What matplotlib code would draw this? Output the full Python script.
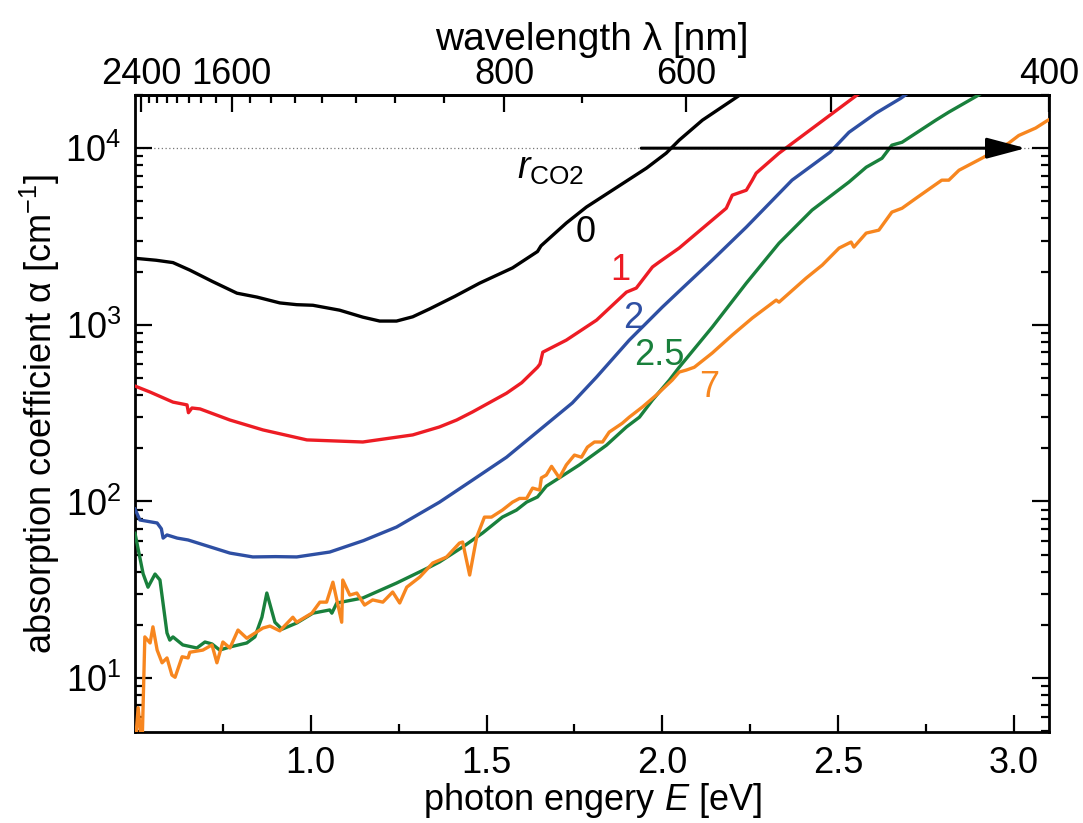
import numpy as np
import matplotlib
matplotlib.use("Agg")
from matplotlib import pyplot as plt
from matplotlib.ticker import FixedLocator, LogLocator, NullFormatter

plt.rcParams['font.family'] = ['Liberation Sans', 'DejaVu Sans']
plt.rcParams['mathtext.fontset'] = 'custom'
plt.rcParams['mathtext.rm'] = 'Liberation Sans'
plt.rcParams['mathtext.it'] = 'Liberation Sans:italic'

# r_CO2 = 0
E_0 = [0.500, 0.560, 0.608, 0.656, 0.720, 0.790, 0.847, 0.912, 0.960, 1.006, 1.082,
       1.148, 1.196, 1.244, 1.290, 1.338, 1.410, 1.480, 1.574, 1.645, 1.655, 1.727,
       1.784, 1.858, 1.955, 2.011, 2.048, 2.114, 2.224, 2.260]
a_0 = [2380, 2320, 2250, 2040, 1760, 1510, 1435, 1330, 1300, 1290, 1210,
       1105, 1050, 1050, 1110, 1230, 1450, 1720, 2100, 2600, 2800, 3770,
       4640, 5780, 7710, 9370, 11100, 14400, 20200, 23000]

# r_CO2 = 1
E_1 = [0.500, 0.543, 0.608, 0.648, 0.652, 0.662, 0.685, 0.770, 0.864, 0.989, 1.148,
       1.290, 1.366, 1.415, 1.460, 1.557, 1.600, 1.645, 1.652, 1.660, 1.727, 1.813,
       1.898, 1.926, 1.972, 1.991, 2.048, 2.068, 2.182, 2.199, 2.239, 2.256, 2.267,
       2.332, 2.554, 2.600]
a_1 = [450, 416, 365, 352, 318, 338, 334, 289, 254, 223, 217,
       238, 264, 289, 321, 410, 470, 575, 600, 700, 819, 1063,
       1531, 1614, 2125, 2265, 2720, 2940, 4570, 5420, 5780, 6590, 7220,
       9370, 20000, 23000]

# r_CO2 = 2
E_2 = [0.500, 0.514, 0.563, 0.575, 0.580, 0.591, 0.620, 0.651, 0.770, 0.835, 0.900,
       0.960, 1.054, 1.150, 1.244, 1.366, 1.460, 1.557, 1.651, 1.744, 1.813, 1.906,
       2.000, 2.048, 2.142, 2.239, 2.369, 2.477, 2.531, 2.608, 2.679, 2.720]
a_2 = [90.5, 78.5, 75.5, 70, 62, 64.6, 62, 60.5, 51, 48.5, 48.7,
       48.5, 51.7, 60, 71.6, 99, 132, 178, 254, 361, 506, 819,
       1259, 1550, 2323, 3573, 6590, 9480, 12300, 15800, 19200, 22000]

# r_CO2 = 2.5
E_25 = [0.500, 0.523, 0.537, 0.557, 0.571, 0.591, 0.599, 0.608, 0.636, 0.676, 0.699,
        0.719, 0.741, 0.770, 0.818, 0.841, 0.861, 0.875, 0.898, 0.918, 0.960, 1.006,
        1.054, 1.060, 1.074, 1.148, 1.244, 1.338, 1.366, 1.432, 1.489, 1.545, 1.585,
        1.614, 1.645, 1.670, 1.707, 1.764, 1.841, 1.898, 1.935, 1.972, 2.020, 2.048,
        2.142, 2.239, 2.332, 2.426, 2.531, 2.580, 2.625, 2.653, 2.682, 2.778, 2.815,
        2.900, 2.930]
a_25 = [66, 39, 32.7, 38.8, 35.9, 18.0, 16.4, 17.1, 15.4, 14.8, 16.0,
        15.6, 14.4, 15.0, 15.8, 17.1, 22.1, 30.3, 20.7, 18.9, 20.5, 23.3,
        24.3, 23.3, 26.6, 28.4, 34.5, 42.5, 45.4, 55.2, 66.3, 81.5, 89.3,
        99.1, 106, 122, 136, 161, 208, 264, 300, 375, 486, 575,
        970, 1722, 2897, 4460, 6430, 7800, 8770, 10400, 10800, 14400, 16000,
        20000, 22000]

# r_CO2 = 7
E_7 = [0.500, 0.509, 0.520, 0.528, 0.543, 0.551, 0.563, 0.577, 0.591, 0.605, 0.614,
       0.634, 0.651, 0.656, 0.693, 0.719, 0.733, 0.750, 0.770, 0.793, 0.818, 0.864,
       0.884, 0.912, 0.949, 0.960, 1.003, 1.026, 1.045, 1.063, 1.088, 1.091, 1.111,
       1.131, 1.153, 1.176, 1.205, 1.233, 1.253, 1.273, 1.310, 1.347, 1.386, 1.423,
       1.432, 1.452, 1.472, 1.494, 1.514, 1.545, 1.574, 1.594, 1.614, 1.631, 1.651,
       1.656, 1.670, 1.685, 1.707, 1.727, 1.750, 1.770, 1.787, 1.807, 1.830, 1.849,
       1.886, 1.906, 1.943, 1.983, 2.028, 2.048, 2.068, 2.091, 2.142, 2.199, 2.256,
       2.324, 2.332, 2.409, 2.455, 2.503, 2.537, 2.545, 2.580, 2.616, 2.653, 2.682,
       2.722, 2.795, 2.815, 2.844, 2.909, 2.986, 3.014, 3.062, 3.097, 3.100]
a_7 = [4.0, 6.8, 4.0, 17.1, 15.8, 19.5, 14.4, 12.2, 13.0, 10.4, 10.1,
       13.2, 13.0, 14.0, 14.4, 15.4, 12.2, 16.0, 14.8, 18.7, 16.8, 19.2,
       19.7, 18.5, 22.1, 20.7, 23.3, 26.9, 26.9, 34.9, 20.7, 35.9, 29.5,
       30.3, 25.9, 27.7, 26.9, 30.7, 26.6, 32.7, 37.3, 44.8, 48.4, 58.1,
       58.9, 38.3, 62.8, 81.5, 81.5, 89.3, 99.1, 104, 104, 119, 116,
       136, 141, 158, 136, 161, 183, 178, 203, 217, 217, 247,
       277, 300, 342, 400, 486, 540, 554, 575, 692, 875, 1092,
       1380, 1343, 1837, 2178, 2720, 2940, 2755, 3305, 3435, 4345, 4570,
       5210, 6590, 6590, 7500, 8770, 10700, 11800, 13000, 14400, 14500]

series = [("0", E_0, a_0, "black"),
          ("1", E_1, a_1, "#ED1C24"),
          ("2", E_2, a_2, "#2E4FA3"),
          ("2.5", E_25, a_25, "#19803C"),
          ("7", E_7, a_7, "#F7861F")]

# curve labels: (text, E, alpha at baseline)
curve_labels = [("0", 1.781, 2940, "black"),
                ("1", 1.881, 1790, "#ED1C24"),
                ("2", 1.918, 957, "#2E4FA3"),
                ("2.5", 1.991, 592, "#19803C"),
                ("7", 2.134, 390, "#F7861F")]

wl_major = [2400, 1600, 800, 600, 500, 400]
wl_major_labels = ["2400", "1600", "800", "600", "", "400"]
wl_minor = [2300, 2200, 2100, 2000, 1900, 1800, 1700,
            1500, 1400, 1300, 1200, 1100, 1000, 900, 700]

fs = 26

fig = plt.figure(figsize=(10.83, 8.23), dpi=100)
ax = fig.add_axes([135 / 1083, 1 - 732 / 823, (1049 - 135) / 1083, (732 - 95) / 823])

# dotted reference line at 1e4
ax.axhline(1e4, color="#777777", lw=0.9, ls=(0, (1, 2)), zorder=1)

for name, E, a, c in series:
    ax.plot(E, a, color=c, lw=2.4, zorder=3)

ax.annotate("", xy=(3.034, 1e4), xytext=(1.94, 1e4),
            arrowprops=dict(arrowstyle="-|>,head_length=1.2,head_width=0.32",
                            mutation_scale=20, lw=2.2, color="black",
                            shrinkA=0, shrinkB=0), zorder=4)

ax.text(1.588, 6760, r"$\mathit{r}_{\mathrm{CO2}}$", fontsize=27,
        ha="left", va="baseline")
for txt, x, y, c in curve_labels:
    ax.text(x, y, txt, color=c, fontsize=fs, ha="center", va="baseline")

ax.set_yscale("log")
ax.set_xlim(0.5, 3.1)
ax.set_ylim(4.95, 2.0e4)

ax.xaxis.set_major_locator(FixedLocator([1.0, 1.5, 2.0, 2.5, 3.0]))
ax.xaxis.set_minor_locator(FixedLocator([0.75, 1.25, 1.75, 2.25, 2.75]))
ax.yaxis.set_major_locator(LogLocator(base=10, numticks=10))
ax.yaxis.set_minor_locator(LogLocator(base=10, subs=np.arange(2, 10), numticks=20))
ax.yaxis.set_minor_formatter(NullFormatter())

ax.tick_params(which="both", direction="in", right=True, top=False, width=1.6)
ax.tick_params(which="major", length=12, labelsize=fs)
ax.tick_params(which="minor", length=6)
ax.tick_params(axis="x", which="major", pad=10)
ax.tick_params(axis="y", which="major", pad=10)

for sp in ax.spines.values():
    sp.set_linewidth(2.0)

ax.set_xlabel("photon engery $E$ [eV]", fontsize=fs, labelpad=0)
ax.set_ylabel("absorption coefficient α [cm$^{-1}$]", fontsize=fs, labelpad=2)


def e2l(x):
    x = np.array(x, dtype=float)
    x[np.isclose(x, 0)] = np.inf
    return 1240.0 / x


secax = ax.secondary_xaxis("top", functions=(e2l, e2l))
secax.xaxis.set_major_locator(FixedLocator(wl_major))
secax.set_xticklabels(wl_major_labels)
secax.xaxis.set_minor_locator(FixedLocator(wl_minor))
secax.tick_params(which="both", direction="in", width=1.6, pad=2)
secax.tick_params(which="major", length=12, labelsize=fs)
secax.tick_params(which="minor", length=6)
secax.spines["top"].set_linewidth(2.0)
secax.set_xlabel("wavelength λ [nm]", fontsize=28, labelpad=5)

fig.savefig("out.png", dpi=100)
